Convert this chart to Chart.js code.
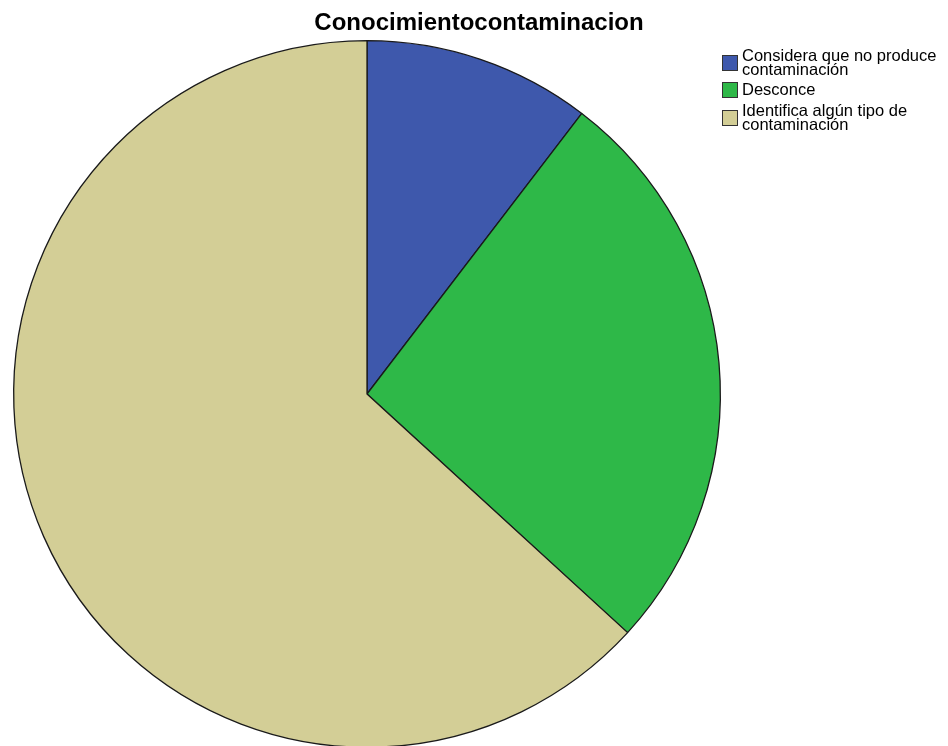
<!DOCTYPE html>
<html>
<head>
<meta charset="UTF-8">
<title>Conocimientocontaminacion</title>
<script src="https://cdn.jsdelivr.net/npm/chart.js"></script>
<style>
  html, body { margin: 0; padding: 0; background: #ffffff; overflow: hidden; }
  #wrap { position: relative; width: 948px; height: 760px; }
  #title { position: absolute; left: 279px; width: 400px; top: 10px; text-align: center;
           font-family: "Liberation Sans", Arial, sans-serif; font-weight: bold; font-size: 24px; line-height: 24px; color: #000; }
  #legend { position: absolute; left: 722px; top: 49px; font-family: "Liberation Sans", Arial, sans-serif; font-size: 16.5px; color: #000; }
  .item { display: flex; align-items: center; }
  .box { width: 14px; height: 14px; border: 1px solid #333; margin-right: 4px; flex: none; }
  .txt { line-height: 13.5px; white-space: nowrap; }
</style>
</head>
<body>
<div id="wrap">
  <canvas id="pie" width="948" height="760"></canvas>
  <div id="title"></div>
  <div id="legend"></div>
</div>
<script>
const chartTitle = 'Conocimientocontaminacion';
const categories = [
  ['Considera que no produce', 'contaminación'],
  ['Desconce'],
  ['Identifica algún tipo de', 'contaminación']
];
const counts = [13, 33, 79];
const sliceColors = ['#3e58ac', '#2eb848', '#d3ce96'];

document.getElementById('title').textContent = chartTitle;

// legend on the right, swatch centred on its text block
const legend = document.getElementById('legend');
const rowGaps = [6, 6, 0];
categories.forEach((lines, i) => {
  const row = document.createElement('div');
  row.className = 'item';
  row.style.marginBottom = rowGaps[i] + 'px';
  const box = document.createElement('div');
  box.className = 'box';
  box.style.background = sliceColors[i];
  const txt = document.createElement('div');
  txt.className = 'txt';
  txt.innerHTML = lines.join('<br>');
  row.appendChild(box);
  row.appendChild(txt);
  legend.appendChild(row);
});

new Chart(document.getElementById('pie'), {
  type: 'pie',
  data: {
    labels: categories,
    datasets: [{
      data: counts,
      backgroundColor: sliceColors,
      borderColor: '#1a1a1a',
      borderWidth: 1.3
    }]
  },
  options: {
    responsive: false,
    animation: false,
    layout: { padding: { top: 40, bottom: 12, left: 13, right: 227 } },
    plugins: {
      legend: { display: false },
      tooltip: { enabled: false },
      title: { display: false }
    }
  },
  plugins: [{
    id: 'whiteBg',
    beforeDraw: (chart) => {
      const ctx = chart.ctx;
      ctx.save();
      ctx.fillStyle = '#ffffff';
      ctx.fillRect(0, 0, chart.width, chart.height);
      ctx.restore();
    }
  }]
});
</script>
</body>
</html>
